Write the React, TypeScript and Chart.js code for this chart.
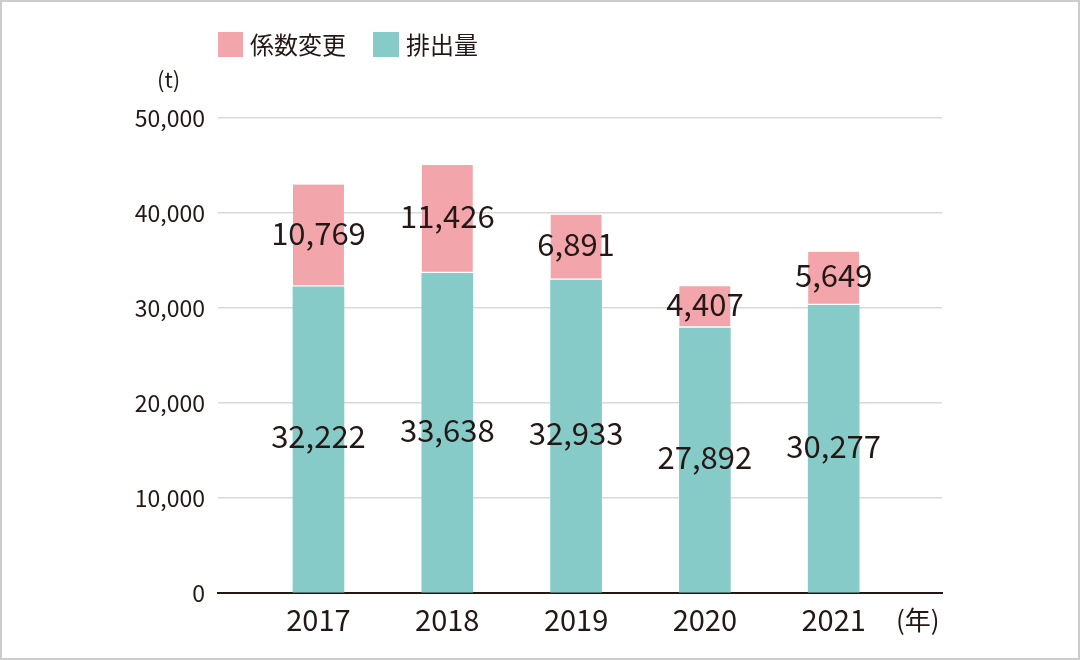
import React, { useEffect, useRef } from "react";
import { Chart, registerables } from "chart.js";

Chart.register(...registerables);

const years = [2017, 2018, 2019, 2020, 2021];
const emissions = [32222, 33638, 32933, 27892, 30277];
const factorChange = [10769, 11426, 6891, 4407, 5649];
const yTicks = [0, 10000, 20000, 30000, 40000, 50000];
const seriesNames = ["係数変更", "排出量"];

const PINK = "#F2A6AB";
const TEAL = "#86CBC8";
const TEXT = "#231815";
const FONT = "'Noto Sans CJK JP', 'Noto Sans', sans-serif";

const fmt = (v: number) => v.toLocaleString("en-US");

const labelPlugin = {
  id: "segLabels",
  afterDatasetsDraw(chart: any) {
    const ctx = chart.ctx;
    ctx.save();
    ctx.font = `31px ${FONT}`;
    ctx.fillStyle = TEXT;
    ctx.textAlign = "center";
    ctx.textBaseline = "middle";
    chart.data.datasets.forEach((ds: any, di: number) => {
      const meta = chart.getDatasetMeta(di);
      meta.data.forEach((el: any, i: number) => {
        const p = el.getProps(["x", "y", "base"], true);
        const v = ds.data[i].y;
        ctx.fillText(fmt(v), p.x, (p.y + p.base) / 2 - 3);
      });
    });
    ctx.restore();
  },
};

export default function App() {
  const ref = useRef<HTMLCanvasElement>(null);
  useEffect(() => {
    document.body.style.margin = "0";
    const chart = new Chart(ref.current!, {
      type: "bar",
      data: {
        datasets: [
          {
            label: seriesNames[1],
            data: years.map((y, i) => ({ x: y, y: emissions[i] })),
            backgroundColor: TEAL,
            borderWidth: 0,
            barThickness: 51,
          },
          {
            label: seriesNames[0],
            data: years.map((y, i) => ({ x: y, y: factorChange[i] })),
            backgroundColor: PINK,
            borderColor: "#ffffff",
            borderWidth: { bottom: 2, top: 0, left: 0, right: 0 },
            borderSkipped: false,
            barThickness: 51,
          },
        ],
      },
      options: {
        responsive: false,
        animation: false,
        devicePixelRatio: 1,
        layout: { padding: { left: 0, right: 138, top: 118, bottom: 0 } },
        plugins: { legend: { display: false }, tooltip: { enabled: false } },
        scales: {
          x: {
            type: "linear",
            stacked: true,
            offset: false,
            min: 2016.22,
            max: 2021.841,
            grid: { display: false, drawTicks: false, offset: false },
            border: { display: true, color: TEXT, width: 2 },
            afterBuildTicks: (axis: any) => {
              axis.ticks = years.map((v) => ({ value: v }));
            },
            afterFit: (axis: any) => {
              axis.height = 67;
            },
            ticks: {
              padding: 10,
              color: TEXT,
              font: { family: FONT, size: 29 },
              callback: (v: any) => String(v),
              maxRotation: 0,
              autoSkip: false,
            },
          },
          y: {
            stacked: true,
            min: 0,
            max: 50000,
            afterBuildTicks: (axis: any) => {
              axis.ticks = yTicks.map((v) => ({ value: v }));
            },
            afterFit: (axis: any) => {
              axis.width = 218;
            },
            grid: { color: "#d9d9d9", lineWidth: 1.5, drawTicks: false },
            border: { display: false },
            ticks: {
              padding: 13,
              color: TEXT,
              font: { family: FONT, size: 23 },
              callback: (v: any) => fmt(Number(v)),
            },
          },
        },
      },
      plugins: [labelPlugin],
    } as any);
    return () => chart.destroy();
  }, []);

  const textStyle: React.CSSProperties = {
    position: "absolute",
    fontFamily: FONT,
    color: TEXT,
    lineHeight: 1,
    whiteSpace: "nowrap",
  };

  return (
    <div style={{ position: "relative", width: 1080, height: 660, background: "#fff", overflow: "hidden" }}>
      <canvas ref={ref} width={1080} height={660} style={{ position: "absolute", left: 0, top: 0, width: 1080, height: 660 }} />
      <div style={{ position: "absolute", left: 218, top: 32, width: 25, height: 25, background: PINK }} />
      <div style={{ ...textStyle, left: 250, top: 32, fontSize: 24 }}>{seriesNames[0]}</div>
      <div style={{ position: "absolute", left: 373, top: 32, width: 26, height: 25, background: TEAL }} />
      <div style={{ ...textStyle, left: 406, top: 32, fontSize: 24 }}>{seriesNames[1]}</div>
      <div style={{ ...textStyle, left: 157, top: 67, fontSize: 22 }}>(t)</div>
      <div style={{ ...textStyle, left: 896, top: 606, fontSize: 26 }}>(年)</div>
      <div style={{ position: "absolute", inset: 0, border: "2px solid #cccccc", pointerEvents: "none" }} />
    </div>
  );
}
